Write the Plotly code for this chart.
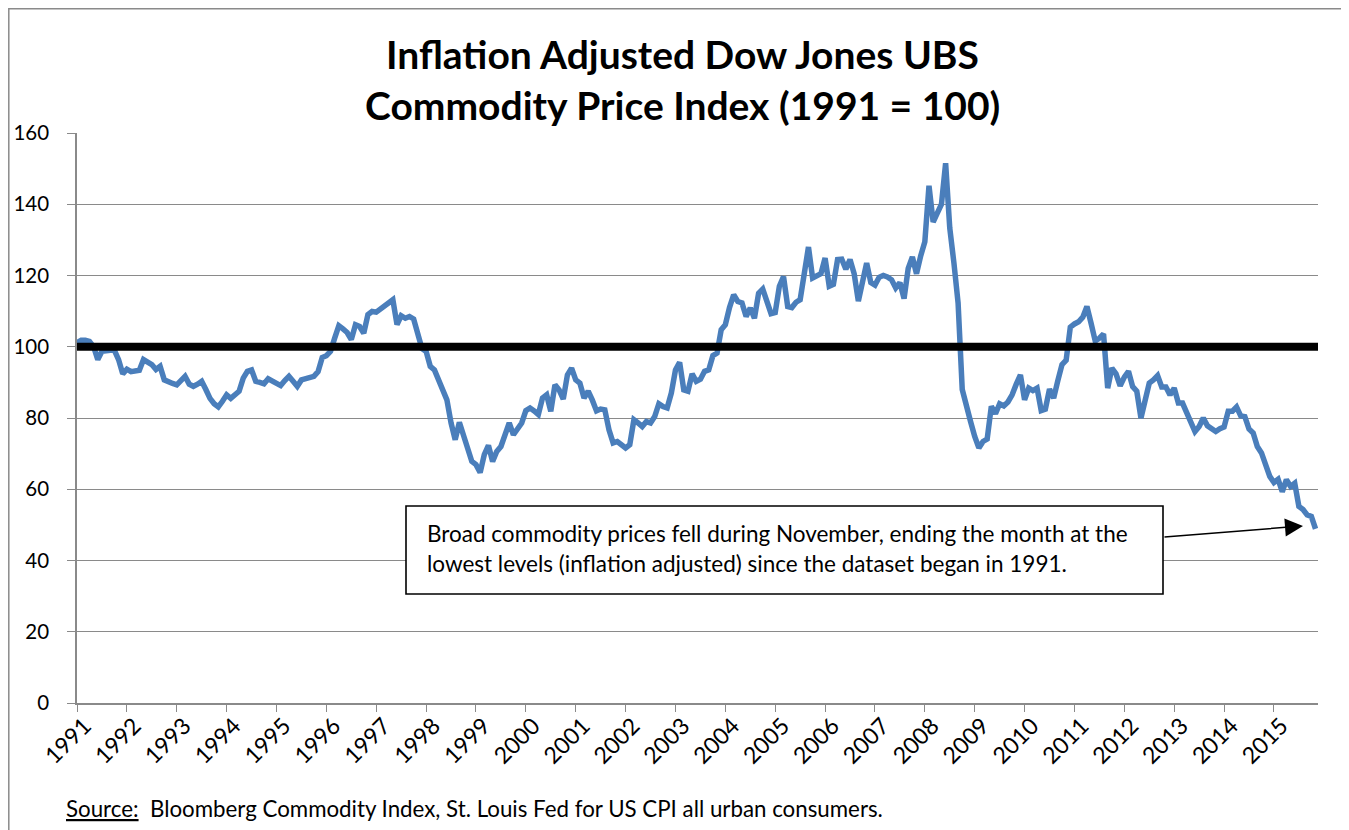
import plotly.graph_objects as go

# ---------------- data (monthly, Jan 1991 - Nov 2015) ----------------
years = list(range(1991, 2016))
y1991 = [101.2, 101.8, 101.8, 101.5, 100.0, 96.4, 98.7, 99.0, 99.0, 99.0, 96.4, 92.4]
y1992 = [93.7, 93.0, 93.2, 93.4, 96.4, 95.6, 95.0, 93.6, 94.5, 90.7, 90.0, 89.7]
y1993 = [89.3, 90.3, 91.7, 89.5, 88.9, 89.5, 90.3, 88.0, 85.5, 84.0, 83.1, 84.7]
y1994 = [86.5, 85.5, 86.5, 87.5, 91.2, 93.1, 93.5, 90.3, 90.0, 89.6, 91.0, 90.5]
y1995 = [89.8, 89.1, 90.5, 91.7, 90.3, 88.9, 90.7, 91.0, 91.2, 91.7, 93.0, 97.0]
y1996 = [97.5, 98.7, 102.4, 105.9, 105.0, 104.0, 102.0, 106.2, 105.7, 103.8, 109.0, 109.9]
y1997 = [109.7, 110.5, 111.3, 112.1, 113.2, 106.2, 108.7, 108.0, 108.5, 107.8, 103.0, 99.5]
y1998 = [98.7, 94.5, 93.5, 90.7, 87.5, 85.1, 78.6, 73.9, 78.8, 75.3, 70.6, 67.8]
y1999 = [66.9, 64.7, 69.7, 72.3, 67.8, 70.6, 72.0, 74.8, 78.6, 75.3, 76.7, 78.6]
y2000 = [82.1, 82.8, 82.0, 81.0, 85.6, 86.5, 81.9, 89.3, 87.9, 85.3, 92.1, 94.0]
y2001 = [90.7, 89.8, 85.6, 87.5, 85.0, 82.0, 82.5, 82.3, 76.7, 73.0, 73.4, 72.3]
y2002 = [71.6, 72.5, 79.5, 78.6, 77.6, 79.0, 78.6, 80.4, 84.0, 83.2, 82.8, 87.0]
y2003 = [93.5, 95.6, 87.9, 87.5, 92.4, 90.3, 90.9, 93.1, 93.5, 97.5, 98.2, 104.8]
y2004 = [106.2, 111.0, 114.6, 112.7, 112.3, 108.5, 110.9, 108.0, 115.0, 116.2, 112.7, 109.3]
y2005 = [109.6, 117.0, 119.7, 111.3, 111.0, 112.5, 113.2, 120.7, 128.0, 119.3, 120.0, 120.5]
y2006 = [124.9, 117.0, 117.5, 124.5, 124.6, 121.8, 124.5, 120.5, 112.8, 117.5, 123.5, 118.0]
y2007 = [117.3, 119.5, 120.0, 119.6, 118.8, 116.5, 118.0, 113.5, 122.0, 125.2, 120.5, 125.5]
y2008 = [129.5, 145.2, 135.0, 137.5, 140.0, 151.5, 133.3, 123.5, 112.3, 88.0, 83.0, 79.0]
y2009 = [74.8, 71.6, 73.4, 74.1, 83.3, 81.2, 84.0, 83.4, 84.5, 86.5, 89.5, 92.1]
y2010 = [85.1, 88.4, 87.7, 88.4, 82.1, 82.5, 88.1, 85.6, 90.5, 95.0, 96.2, 105.5]
y2011 = [106.4, 107.0, 108.3, 111.3, 106.6, 101.6, 102.4, 103.6, 88.4, 94.0, 92.4, 89.0]
y2012 = [91.5, 93.1, 88.8, 87.5, 80.0, 84.7, 89.8, 90.7, 91.9, 88.7, 88.7, 86.5]
y2013 = [88.4, 84.2, 84.2, 81.5, 79.0, 76.2, 77.6, 80.0, 77.8, 76.8, 76.2, 77.0]
y2014 = [77.5, 81.9, 81.9, 83.1, 80.6, 80.4, 76.9, 75.8, 72.0, 70.2, 66.9, 63.6]
y2015 = [61.9, 62.8, 59.3, 62.7, 60.8, 61.7, 55.2, 54.3, 52.8, 52.4, 48.9]

reference_level = 100
y_ticks = [0, 20, 40, 60, 80, 100, 120, 140, 160]

values = (y1991 + y1992 + y1993 + y1994 + y1995 + y1996 + y1997 + y1998 +
          y1999 + y2000 + y2001 + y2002 + y2003 + y2004 + y2005 + y2006 +
          y2007 + y2008 + y2009 + y2010 + y2011 + y2012 + y2013 + y2014 + y2015)
months = list(range(len(values)))
year_ticks = [12 * i for i in range(len(years))]
year_labels = [str(y) for y in years]

# ---------------- layout helpers (page pixel -> paper) ----------------
OFF = 8                      # default body margin of the html page
W, H = 1349 - OFF, 830 - OFF
L, R, T, B = 77, 1318, 133, 703   # plot area in page pixels


def px(xp):
    return (xp - L) / (R - L)


def py(yp):
    return (B - yp) / (B - T)


FONT = "Lato, 'Open Sans', sans-serif"
GRID = "#8a8a8a"
X_END = 298.6
LABEL_SHIFT = 1.8

fig = go.Figure()
fig.add_trace(go.Scatter(x=months, y=values, mode="lines",
                         line=dict(color="#4A7EBB", width=5.5),
                         showlegend=False, hoverinfo="x+y"))
fig.add_trace(go.Scatter(x=[months[0], X_END], y=[reference_level, reference_level],
                         mode="lines", line=dict(color="black", width=8),
                         showlegend=False, hoverinfo="skip"))
# invisible trace to register the label axis
fig.add_trace(go.Scatter(x=[months[0], X_END], y=[None, None], xaxis="x2",
                         mode="lines", showlegend=False, hoverinfo="skip"))

fig.update_layout(
    width=W, height=H,
    margin=dict(l=L - OFF, r=W - (R - OFF), t=T - OFF, b=H - (B - OFF), pad=0,
                autoexpand=False),
    paper_bgcolor="white", plot_bgcolor="white",
    font=dict(family=FONT, color="black", size=22),
    xaxis=dict(range=[0, X_END], tickvals=year_ticks, ticktext=[""] * len(years),
               showgrid=False, zeroline=False, showline=True, linecolor=GRID,
               linewidth=1.5, ticks="outside", ticklen=7, tickcolor=GRID,
               tickwidth=1.2, automargin=False),
    xaxis2=dict(range=[0, X_END], overlaying="x", anchor="y", side="bottom",
                tickvals=[t + LABEL_SHIFT for t in year_ticks], ticktext=year_labels,
                tickangle=-45, showgrid=False, zeroline=False, showline=False,
                ticks="", ticklabelstandoff=4, automargin=False,
                tickfont=dict(size=23, family=FONT)),
    yaxis=dict(range=[0, 160], tickvals=y_ticks, showgrid=True, gridcolor=GRID,
               gridwidth=1.3, zeroline=False, showline=True, linecolor=GRID,
               linewidth=1.5, ticks="outside", ticklen=8, tickcolor=GRID,
               tickwidth=1.2, ticklabelstandoff=14, automargin=False,
               tickfont=dict(size=20.5, family=FONT)),
)

shapes = [
    # outer chart border
    dict(type="rect", xref="paper", yref="paper", x0=px(8.8), x1=px(1370),
         y0=py(860), y1=py(8.8), line=dict(color="#8a8a8a", width=1.5),
         fillcolor="rgba(0,0,0,0)", layer="below"),
    # annotation box
    dict(type="rect", xref="paper", yref="paper", x0=px(406), x1=px(1163),
         y0=py(594), y1=py(506), line=dict(color="black", width=1.6),
         fillcolor="white", layer="above"),
]
fig.update_layout(shapes=shapes)

annotations = [
    dict(text="<b>Inflation Adjusted Dow Jones UBS</b>", x=px(682), y=py(54),
         xref="paper", yref="paper", showarrow=False, xanchor="center",
         yanchor="middle", font=dict(size=39, family=FONT)),
    dict(text="<b>Commodity Price Index (1991 = 100)</b>", x=px(682), y=py(105),
         xref="paper", yref="paper", showarrow=False, xanchor="center",
         yanchor="middle", font=dict(size=39, family=FONT)),
    dict(text="Broad commodity prices fell during November, ending the month at the",
         x=px(425), y=py(533), xref="paper", yref="paper", showarrow=False,
         xanchor="left", yanchor="middle", font=dict(size=22.5, family=FONT)),
    dict(text="lowest levels (inflation adjusted) since the dataset began in 1991.",
         x=px(425), y=py(563), xref="paper", yref="paper", showarrow=False,
         xanchor="left", yanchor="middle", font=dict(size=22.5, family=FONT)),
    dict(text="", x=px(1303), y=py(526), xref="paper", yref="paper",
         showarrow=True, ax=1163 - 1303, ay=537 - 526, arrowhead=2,
         arrowsize=2.4, arrowwidth=1.5, arrowcolor="black"),
    dict(text="<u>Source:</u>  Bloomberg Commodity Index, St. Louis Fed for US CPI all urban consumers.",
         x=px(64), y=py(808), xref="paper", yref="paper", showarrow=False,
         xanchor="left", yanchor="middle", font=dict(size=22.3, family=FONT)),
]
fig.update_layout(annotations=annotations)

fig.write_html("out.html")
